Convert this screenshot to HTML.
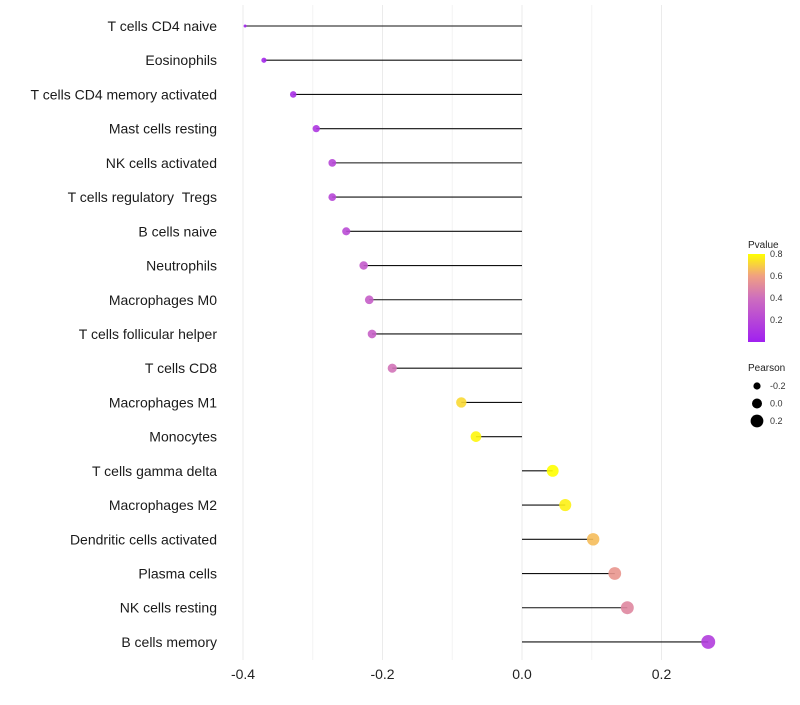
<!DOCTYPE html>
<html><head><meta charset="utf-8"><style>
body{margin:0;background:#fff;font-family:"Liberation Sans",sans-serif}
</style></head><body>
<svg id="c" width="800" height="700" xmlns="http://www.w3.org/2000/svg" font-family="Liberation Sans, sans-serif"></svg>
<script>
const categories=["T cells CD4 naive","Eosinophils","T cells CD4 memory activated","Mast cells resting","NK cells activated","T cells regulatory\u00a0\u00a0Tregs","B cells naive","Neutrophils","Macrophages M0","T cells follicular helper","T cells CD8","Macrophages M1","Monocytes","T cells gamma delta","Macrophages M2","Dendritic cells activated","Plasma cells","NK cells resting","B cells memory"];
const pearson=[-0.397,-0.370,-0.328,-0.295,-0.272,-0.272,-0.252,-0.227,-0.219,-0.215,-0.186,-0.087,-0.066,0.044,0.062,0.102,0.133,0.151,0.267];
const pvalue=[0.02,0.04,0.08,0.12,0.2,0.2,0.22,0.3,0.32,0.33,0.42,0.72,0.78,0.8,0.77,0.66,0.56,0.5,0.15];
const xTicks=[-0.4,-0.2,0,0.2];
const xMinor=[-0.3,-0.1,0.1];
const cbTicks=[0.2,0.4,0.6,0.8];
const sizeTicks=[-0.2,0,0.2];
const svg=document.getElementById('c');const NS="http://www.w3.org/2000/svg";
function mk(t,a,p){const e=document.createElementNS(NS,t);for(const k in a)e.setAttribute(k,a[k]);(p||svg).appendChild(e);return e;}
const x=v=>522+v*697.5;
const y=i=>26+i*34.22;
const r=v=>1.5+6.7*Math.sqrt(Math.max(0,v+0.397));
const stops=[[0,[160,32,240]],[0.4,[206,110,190]],[0.6,[240,160,130]],[0.8,[255,255,0]]];
function col(p){p=Math.min(0.8,Math.max(0,p));for(let i=1;i<stops.length;i++){if(p<=stops[i][0]){const a=stops[i-1],b=stops[i],t=(p-a[0])/(b[0]-a[0]);return 'rgb('+a[1].map((c,j)=>Math.round(c+(b[1][j]-c)*t)).join(',')+')';}}return 'rgb(255,255,0)';}
xMinor.forEach(v=>{const l=mk('line',{x1:x(v),x2:x(v),y1:5,y2:660,stroke:'#f3f3f3','stroke-width':1});

});
xTicks.forEach(v=>{const l=mk('line',{x1:x(v),x2:x(v),y1:5,y2:660,stroke:'#ebebeb','stroke-width':1});


const t=mk('text',{x:x(v),y:679,'text-anchor':'middle','font-size':14,fill:'#222'});t.textContent=v===0?'0.0':String(v);

});
categories.forEach((c,i)=>{
const t=mk('text',{x:217,y:y(i)+5,'text-anchor':'end','font-size':14,fill:'#1a1a1a'});t.textContent=c;


const l=mk('line',{x1:x(0),x2:x(pearson[i]),y1:y(i),y2:y(i),stroke:'#111','stroke-width':1.1});


const d=mk('circle',{cx:x(pearson[i]),cy:y(i),r:r(pearson[i]),fill:col(pvalue[i]),'fill-opacity':0.9});

});
const g=mk('text',{x:748,y:248,'font-size':10,fill:'#222'});g.textContent='Pvalue';


const defs=mk('defs',{});const lg=mk('linearGradient',{id:'gr',x1:0,y1:1,x2:0,y2:0},defs);
stops.forEach(s=>mk('stop',{offset:s[0]/0.8,'stop-color':'rgb('+s[1].join(',')+')'},lg));
const cbY=v=>342-v*110;
const rb=mk('rect',{x:748,y:cbY(0.8),width:17,height:88,fill:'url(#gr)'});


cbTicks.forEach(v=>{const t=mk('text',{x:770,y:cbY(v)+3,'font-size':9,fill:'#333'});t.textContent=v.toFixed(1);

});
const st=mk('text',{x:748,y:371,'font-size':10,fill:'#222'});st.textContent='Pearson';


sizeTicks.forEach((v,i)=>{const cy=386+i*17.5;
const c=mk('circle',{cx:757,cy:cy,r:5+v*7,fill:'#000'});


const t=mk('text',{x:770,y:cy+3,'font-size':9,fill:'#333'});t.textContent=v===0?'0.0':String(v);

});
</script>
</body></html>
